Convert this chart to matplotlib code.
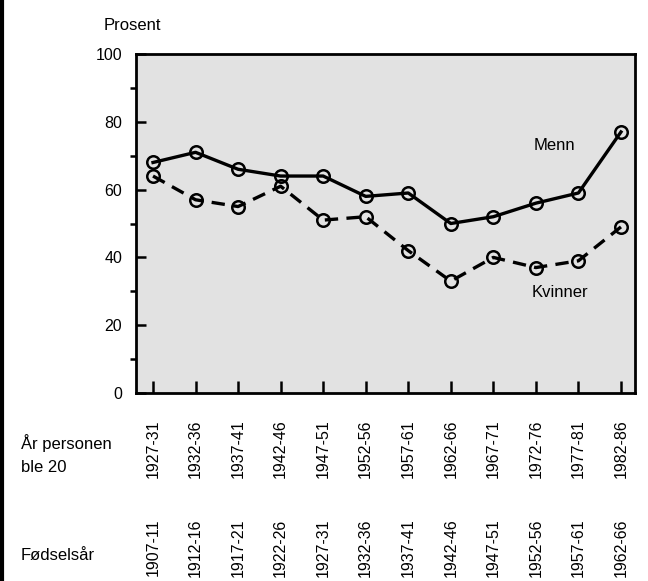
import matplotlib
matplotlib.use("Agg")
import matplotlib.pyplot as plt
from matplotlib.lines import Line2D

plt.rcParams['font.family'] = ['Liberation Sans', 'DejaVu Sans']
plt.rcParams['hatch.color'] = '#7a7a7a'
plt.rcParams['hatch.linewidth'] = 0.6

# Données
aar_20 = ['1927-31', '1932-36', '1937-41', '1942-46', '1947-51', '1952-56',
          '1957-61', '1962-66', '1967-71', '1972-76', '1977-81', '1982-86']
fodselsaar = ['1907-11', '1912-16', '1917-21', '1922-26', '1927-31', '1932-36',
              '1937-41', '1942-46', '1947-51', '1952-56', '1957-61', '1962-66']
menn = [68, 71, 66, 64, 64, 58, 59, 50, 52, 56, 59, 77]
kvinner = [64, 57, 55, 61, 51, 52, 42, 33, 40, 37, 39, 49]

fig = plt.figure(figsize=(6.48, 5.81), dpi=100)
ax = fig.add_axes([136/648, 1 - 393/581, (635-136)/648, (393-54)/581])

# Fond pointillé
ax.set_facecolor('#e2e2e2')
ax.patch.set_hatch('....')

x = list(range(len(aar_20)))
ax.plot(x, menn, color='black', lw=2.4, marker='o', ms=9,
        mfc='none', mec='black', mew=1.8)
ax.plot(x, kvinner, color='black', lw=2.4, ls=(0, (4, 2.5)), marker='o', ms=9,
        mfc='none', mec='black', mew=1.8)

ax.set_xlim(-0.4, 11.33)
ax.set_ylim(0, 100)
ax.set_yticks([0, 20, 40, 60, 80, 100])
ax.set_yticks([10, 30, 50, 70, 90], minor=True)
ax.set_xticks(x)
ax.set_xticklabels(aar_20, rotation=90)

ax.tick_params(axis='both', direction='in', width=1.8, labelsize=11.5)
ax.tick_params(axis='y', which='major', length=7, pad=10)
ax.tick_params(axis='y', which='minor', length=4.5, width=1.8)
ax.tick_params(axis='x', length=8.5, pad=19)
for s in ax.spines.values():
    s.set_linewidth(2)

# Deuxième rangée d'étiquettes
sec = ax.secondary_xaxis(-0.37)
sec.set_xticks(x)
sec.set_xticklabels(fodselsaar, rotation=90)
sec.tick_params(length=0, pad=0, labelsize=11.5)
sec.spines['bottom'].set_visible(False)

ax.text(8.95, 73, 'Menn', fontsize=12, ha='left', va='center')
ax.text(8.9, 29.5, 'Kvinner', fontsize=12, ha='left', va='center')

fig.text(104/648, 1 - 26/581, 'Prosent', fontsize=12, ha='left', va='center')
fig.text(21/648, 1 - 443/581, 'År personen', fontsize=12, ha='left', va='center')
fig.text(21/648, 1 - 467/581, 'ble 20', fontsize=12, ha='left', va='center')
fig.text(21/648, 1 - 555/581, 'Fødselsår', fontsize=12, ha='left', va='center')

# Trait vertical à gauche
fig.add_artist(Line2D([0.003, 0.003], [0, 1], color='black', lw=3))

fig.savefig('out.png', dpi=100)
